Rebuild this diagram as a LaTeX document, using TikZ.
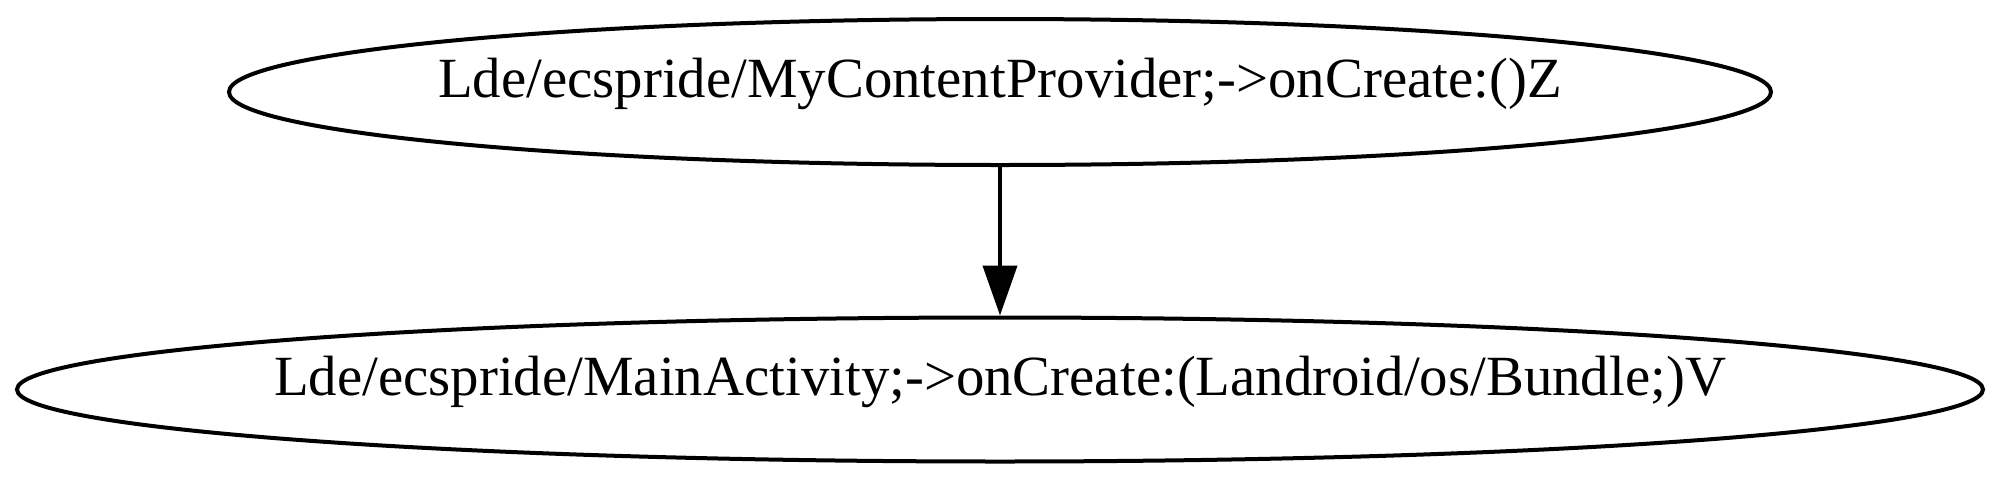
\documentclass[tikz,border=0pt]{standalone}
\usepackage{fontspec}
\setmainfont{Liberation Serif}
\usetikzlibrary{shapes.geometric,arrows.meta}
\begin{document}
\begin{tikzpicture}[x=0.5pt,y=-0.5pt,
  gnode/.style={draw,ellipse,line width=2pt,inner sep=0pt},
  gtext/.style={font=\fontsize{28.4pt}{34pt}\selectfont,text height=0.66em,text depth=0.1em,inner sep=0pt},
  edge/.style={line width=2pt,-{Triangle[length=25pt,width=17pt]}}]
\useasboundingbox (0,0) rectangle (1999,483);
\node[gnode,minimum width=771pt,minimum height=73pt,
  label={[gtext]center:Lde/ecspride/MyContentProvider;->onCreate:()Z}] (a) at (1000,92) {};
\node[gnode,minimum width=983pt,minimum height=72pt,
  label={[gtext]center:Lde/ecspride/MainActivity;->onCreate:(Landroid/os/Bundle;)V}] (b) at (1000,389.5) {};
\draw[edge] (a) -- (b);
\end{tikzpicture}
\end{document}
